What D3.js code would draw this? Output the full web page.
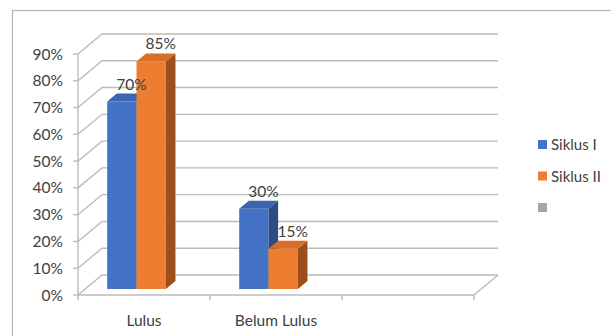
<!DOCTYPE html>
<html>
<head>
<meta charset="utf-8">
<script src="https://cdn.jsdelivr.net/npm/d3@7"></script>
<style>
  body { margin: 0; background: #fff; }
  text { font-family: Lato, "Open Sans", sans-serif; fill: #404040; }
</style>
</head>
<body>
<div id="chart"></div>
<script>
(function(){
    // chart data
    const categories = ["Lulus", "Belum Lulus", ""];
    const seriesNames = ["Siklus I", "Siklus II", ""];
    const siklus1 = [0.70, 0.30, null];
    const siklus2 = [0.85, 0.15, null];
    const series3 = [null, null, null];
    const yTicks = [0, 0.1, 0.2, 0.3, 0.4, 0.5, 0.6, 0.7, 0.8, 0.9];

    const seriesValues = [siklus1, siklus2, series3];
    const colors = [
        { front: "#4472C4", top: "#3B65B0", side: "#2C4C84" },
        { front: "#ED7D31", top: "#DB6E26", side: "#9D4F1B" },
        { front: "#A5A5A5", top: "#959595", side: "#6E6E6E" }
    ];

    const width = 611, height = 336;
    const depthX = 24, depthY = -20;   // wall depth offset
    const zFront = 0.3, zBack = 0.7;    // bar position inside the depth

    const svg = d3.select("#chart").append("svg")
        .attr("width", width)
        .attr("height", height);

    // chart border
    svg.append("rect")
        .attr("x", 12.5).attr("y", 10.5)
        .attr("width", 640).attr("height", 360)
        .attr("fill", "#fff")
        .attr("stroke", "#b4b4b4")
        .attr("stroke-width", 1.2);

    const x = d3.scaleBand().domain(categories).range([78, 474]);
    const xs = d3.scaleBand().domain(d3.range(3)).range([0, x.bandwidth()]).paddingOuter(0.75);
    const y = d3.scaleLinear().domain([0, 0.9]).range([295, 54]);

    // project (screen x at front, value, depth fraction)
    const P = (px, v, z) => [px + z * depthX, y(v) + z * depthY];

    const grid = svg.append("g")
        .attr("stroke", "#bcbcbc")
        .attr("stroke-width", 1.4)
        .attr("fill", "none");

    // side wall diagonals and back wall lines
    yTicks.forEach(t => {
        const a = P(78, t, 0), b = P(78, t, 1), c = P(474, t, 1);
        grid.append("polyline").attr("points", [a, b, c].map(p => p.join(",")).join(" "));
    });
    // floor right edge and front edge
    grid.append("polyline")
        .attr("points", [P(78, 0, 0), P(474, 0, 0), P(474, 0, 1)].map(p => p.join(",")).join(" "));

    // y axis line and ticks
    grid.append("line").attr("x1", 78).attr("x2", 78).attr("y1", y(0.9)).attr("y2", y(0));
    yTicks.forEach(t => {
        grid.append("line").attr("x1", 73).attr("x2", 78).attr("y1", y(t)).attr("y2", y(t));
    });
    // x ticks
    x.domain().map(c => x(c)).concat([474]).forEach(px => {
        grid.append("line").attr("x1", px).attr("x2", px).attr("y1", y(0)).attr("y2", y(0) + 5);
    });

    // y labels
    svg.append("g").selectAll("text")
        .data(yTicks)
        .join("text")
        .attr("x", 63)
        .attr("y", d => y(d))
        .attr("dy", "0.36em")
        .attr("text-anchor", "end")
        .attr("font-size", 15.5)
        .text(d3.format(".0%"));

    // category labels
    svg.append("g").selectAll("text")
        .data(categories)
        .join("text")
        .attr("x", d => x(d) + x.bandwidth() / 2)
        .attr("y", 326)
        .attr("text-anchor", "middle")
        .attr("font-size", 15.5)
        .text(d => d);

    // bars
    const bars = svg.append("g");
    const labels = svg.append("g");
    const pts = arr => arr.map(p => p.join(",")).join(" ");
    categories.forEach((cat, ci) => {
        seriesValues.forEach((vals, si) => {
            const v = vals[ci];
            if (v == null) return;
            const x0 = x(cat) + xs(si), x1 = x0 + xs.bandwidth();
            const col = colors[si];
            bars.append("polygon")
                .attr("points", pts([P(x0, 0, zFront), P(x1, 0, zFront), P(x1, v, zFront), P(x0, v, zFront)]))
                .attr("fill", col.front);
            bars.append("polygon")
                .attr("points", pts([P(x0, v, zFront), P(x1, v, zFront), P(x1, v, zBack), P(x0, v, zBack)]))
                .attr("fill", col.top);
            bars.append("polygon")
                .attr("points", pts([P(x1, 0, zFront), P(x1, 0, zBack), P(x1, v, zBack), P(x1, v, zFront)]))
                .attr("fill", col.side);
            const top = P((x0 + x1) / 2, v, zBack);
            labels.append("text")
                .attr("x", top[0])
                .attr("y", top[1] - 4)
                .attr("text-anchor", "middle")
                .attr("font-size", 15.5)
                .text(d3.format(".0%")(v));
        });
    });

    // legend
    const legend = svg.append("g").selectAll("g")
        .data(seriesNames)
        .join("g")
        .attr("transform", (d, i) => `translate(538, ${145 + i * 31.5})`);
    legend.append("rect")
        .attr("x", 0).attr("y", -5)
        .attr("width", 9).attr("height", 9)
        .attr("fill", (d, i) => colors[i].front);
    legend.append("text")
        .attr("x", 13)
        .attr("y", 0)
        .attr("dy", "0.35em")
        .attr("font-size", 15)
        .text(d => d);
})();
</script>
</body>
</html>
